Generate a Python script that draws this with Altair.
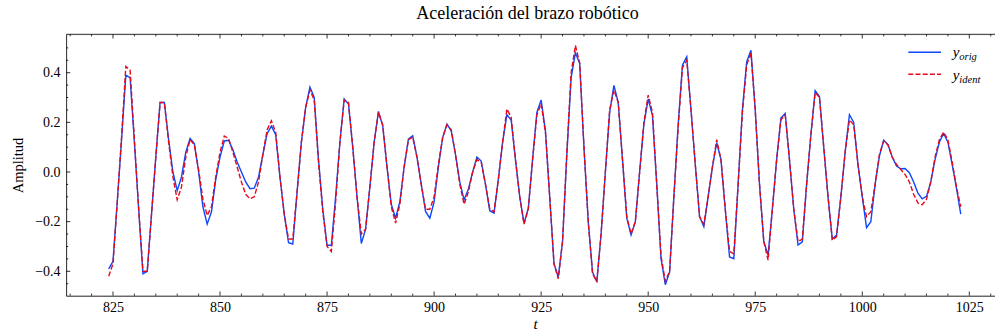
import altair as alt
import pandas as pd

# ---------------- data ----------------
t_values = list(range(824, 1024))

y_orig = [
    -0.39, -0.36, -0.12, 0.13, 0.39, 0.38, 0.12, -0.15, -0.41, -0.40,
    -0.17, 0.06, 0.28, 0.28, 0.13, 0.00, -0.075, -0.02, 0.08, 0.135,
    0.115, 0.00, -0.14, -0.21, -0.16, -0.03, 0.06, 0.125, 0.128, 0.09,
    0.04, 0.00, -0.04, -0.067, -0.065, -0.02, 0.07, 0.155, 0.185, 0.15,
    -0.02, -0.17, -0.285, -0.29, -0.08, 0.12, 0.26, 0.342, 0.30, 0.05,
    -0.15, -0.295, -0.295, -0.10, 0.12, 0.294, 0.274, 0.10, -0.10, -0.288,
    -0.23, -0.06, 0.12, 0.244, 0.186, 0.02, -0.13, -0.186, -0.12, 0.02,
    0.132, 0.146, 0.06, -0.05, -0.159, -0.186, -0.12, 0.02, 0.139, 0.193,
    0.166, 0.07, -0.04, -0.112, -0.07, 0.00, 0.06, 0.044, -0.05, -0.156,
    -0.166, -0.03, 0.12, 0.231, 0.209, 0.05, -0.10, -0.206, -0.146, 0.05,
    0.24, 0.29, 0.166, -0.10, -0.369, -0.423, -0.28, 0.07, 0.38, 0.48,
    0.437, 0.10, -0.20, -0.403, -0.443, -0.25, 0.00, 0.24, 0.349, 0.281,
    0.05, -0.186, -0.254, -0.20, 0.00, 0.193, 0.294, 0.227, -0.05, -0.349,
    -0.454, -0.403, -0.10, 0.19, 0.43, 0.464, 0.25, 0.03, -0.18, -0.22,
    -0.10, 0.02, 0.118, 0.05, -0.15, -0.342, -0.349, -0.05, 0.25, 0.443,
    0.49, 0.25, -0.05, -0.28, -0.335, -0.15, 0.05, 0.217, 0.236, 0.05,
    -0.15, -0.294, -0.281, -0.05, 0.15, 0.328, 0.304, 0.10, -0.10, -0.27,
    -0.254, -0.10, 0.08, 0.231, 0.20, 0.03, -0.10, -0.224, -0.20, -0.05,
    0.064, 0.128, 0.11, 0.06, 0.024, 0.013, 0.014, -0.003, -0.04, -0.085,
    -0.108, -0.098, -0.04, 0.05, 0.12, 0.155, 0.12, 0.03, -0.065, -0.17,
]

y_ident = [
    -0.42, -0.37, -0.12, 0.14, 0.425, 0.41, 0.13, -0.15, -0.40, -0.40,
    -0.17, 0.06, 0.28, 0.28, 0.12, -0.02, -0.112, -0.06, 0.06, 0.13,
    0.11, 0.01, -0.11, -0.175, -0.14, -0.02, 0.08, 0.145, 0.135, 0.08,
    0.02, -0.04, -0.09, -0.108, -0.10, -0.04, 0.07, 0.17, 0.206, 0.16,
    -0.02, -0.17, -0.27, -0.27, -0.08, 0.12, 0.26, 0.33, 0.29, 0.04,
    -0.16, -0.30, -0.32, -0.12, 0.12, 0.29, 0.28, 0.10, -0.10, -0.25,
    -0.23, -0.06, 0.12, 0.24, 0.19, 0.02, -0.14, -0.206, -0.13, 0.02,
    0.13, 0.14, 0.06, -0.05, -0.15, -0.15, -0.10, 0.03, 0.14, 0.19,
    0.17, 0.07, -0.05, -0.13, -0.08, 0.00, 0.05, 0.04, -0.05, -0.15,
    -0.16, -0.03, 0.12, 0.254, 0.22, 0.05, -0.10, -0.21, -0.15, 0.05,
    0.23, 0.275, 0.16, -0.10, -0.37, -0.43, -0.28, 0.08, 0.40, 0.51,
    0.44, 0.10, -0.20, -0.41, -0.44, -0.25, 0.00, 0.25, 0.33, 0.28,
    0.05, -0.18, -0.25, -0.20, 0.00, 0.20, 0.31, 0.24, -0.05, -0.34,
    -0.44, -0.40, -0.10, 0.18, 0.42, 0.45, 0.25, 0.03, -0.18, -0.21,
    -0.10, 0.02, 0.13, 0.05, -0.15, -0.32, -0.33, -0.05, 0.24, 0.43,
    0.48, 0.25, -0.05, -0.28, -0.355, -0.15, 0.05, 0.21, 0.23, 0.05,
    -0.15, -0.28, -0.27, -0.05, 0.15, 0.32, 0.30, 0.10, -0.10, -0.275,
    -0.26, -0.10, 0.08, 0.21, 0.19, 0.03, -0.10, -0.18, -0.16, -0.05,
    0.07, 0.125, 0.11, 0.06, 0.03, 0.01, -0.01, -0.04, -0.09, -0.125,
    -0.132, -0.11, -0.04, 0.06, 0.13, 0.16, 0.13, 0.04, -0.06, -0.14,
]

x_major_ticks = [825, 850, 875, 900, 925, 950, 975, 1000, 1025]
x_minor_ticks = list(range(815, 1031, 5))
y_major_ticks = [-0.4, -0.2, 0.0, 0.2, 0.4]
y_minor_ticks = [-0.45, -0.35, -0.3, -0.25, -0.15, -0.1, -0.05,
                 0.05, 0.1, 0.15, 0.25, 0.3, 0.35, 0.45, 0.5]

# ---------------- layout / style ----------------
FONT = "Liberation Serif"
BLUE = "#0d49fb"
RED = "#e6091c"
W, H = 928.9, 261.4
PAD_L, PAD_T = 66.1, 34.3

x_scale = alt.Scale(domain=[814.05, 1031.0], nice=False, zero=False)
y_scale = alt.Scale(domain=[-0.4983, 0.5547], nice=False, zero=False)

df_orig = pd.DataFrame({"t": t_values, "y": y_orig})
df_ident = pd.DataFrame({"t": t_values, "y": y_ident})

x_axis = alt.Axis(
    values=x_major_ticks, format="d", ticks=False, tickSize=0, grid=False,
    domain=True, domainColor="black", domainWidth=0.8,
    labelFont=FONT, labelFontSize=14, labelColor="black", labelPadding=5,
    title="t", titleFont=FONT, titleFontStyle="italic", titleFontWeight="normal",
    titleFontSize=15, titleColor="black", titleBaseline="alphabetic",
    titleX=469, titleY=33,
)
y_axis = alt.Axis(
    values=y_major_ticks, format=".1f", ticks=False, tickSize=0, grid=False,
    domain=True, domainColor="black", domainWidth=0.8,
    labelFont=FONT, labelFontSize=14, labelColor="black", labelPadding=6,
    title="Amplitud", titleFont=FONT, titleFontWeight="normal",
    titleFontSize=14.5, titleColor="black", titleAngle=-90,
    titleBaseline="alphabetic", titleAlign="center", titleX=-44, titleY=H / 2,
)

line_orig = alt.Chart(df_orig).mark_line(color=BLUE, strokeWidth=1.4).encode(
    x=alt.X("t:Q", scale=x_scale, axis=x_axis),
    y=alt.Y("y:Q", scale=y_scale, axis=y_axis),
)
line_ident = alt.Chart(df_ident).mark_line(
    color=RED, strokeWidth=1.4, strokeDash=[5, 2.2]
).encode(
    x=alt.X("t:Q", scale=x_scale),
    y=alt.Y("y:Q", scale=y_scale),
)

# inward ticks (bottom, top, left)
xmaj = pd.DataFrame({"v": x_major_ticks})
xmin = pd.DataFrame({"v": [v for v in x_minor_ticks if v not in x_major_ticks]})
ymaj = pd.DataFrame({"v": y_major_ticks})
ymin = pd.DataFrame({"v": y_minor_ticks})

tick_kw = dict(color="black", strokeWidth=0.8)
ticks = [
    alt.Chart(xmaj).mark_rule(**tick_kw).encode(
        x=alt.X("v:Q", scale=x_scale), y=alt.value(H), y2=alt.value(H - 4.2)),
    alt.Chart(xmin).mark_rule(**tick_kw).encode(
        x=alt.X("v:Q", scale=x_scale), y=alt.value(H), y2=alt.value(H - 2.1)),
    alt.Chart(xmaj).mark_rule(**tick_kw).encode(
        x=alt.X("v:Q", scale=x_scale), y=alt.value(0), y2=alt.value(4.2)),
    alt.Chart(xmin).mark_rule(**tick_kw).encode(
        x=alt.X("v:Q", scale=x_scale), y=alt.value(0), y2=alt.value(2.1)),
    alt.Chart(ymaj).mark_rule(**tick_kw).encode(
        y=alt.Y("v:Q", scale=y_scale), x=alt.value(0), x2=alt.value(4.2)),
    alt.Chart(ymin).mark_rule(**tick_kw).encode(
        y=alt.Y("v:Q", scale=y_scale), x=alt.value(0), x2=alt.value(2.1)),
]

one = pd.DataFrame({"k": [0]})
top_frame = alt.Chart(one).mark_rule(color="black", strokeWidth=0.8).encode(
    x=alt.value(0), x2=alt.value(W + 2), y=alt.value(0))

# legend
leg = [
    alt.Chart(one).mark_rule(color=BLUE, strokeWidth=1.4).encode(
        x=alt.value(842.2), x2=alt.value(874.9), y=alt.value(18)),
    alt.Chart(one).mark_rule(color=RED, strokeWidth=1.4, strokeDash=[5, 2.2]).encode(
        x=alt.value(842.2), x2=alt.value(874.9), y=alt.value(40)),
    alt.Chart(one).mark_text(font=FONT, fontSize=15, fontStyle="italic", align="left",
                             baseline="alphabetic", color="black").encode(
        x=alt.value(886.6), y=alt.value(22.5), text=alt.value("y")),
    alt.Chart(one).mark_text(font=FONT, fontSize=10.5, fontStyle="italic", align="left",
                             baseline="alphabetic", color="black").encode(
        x=alt.value(893.2), y=alt.value(25.5), text=alt.value("orig")),
    alt.Chart(one).mark_text(font=FONT, fontSize=15, fontStyle="italic", align="left",
                             baseline="alphabetic", color="black").encode(
        x=alt.value(886.6), y=alt.value(45.5), text=alt.value("y")),
    alt.Chart(one).mark_text(font=FONT, fontSize=10.5, fontStyle="italic", align="left",
                             baseline="alphabetic", color="black").encode(
        x=alt.value(893.2), y=alt.value(48.5), text=alt.value("ident")),
]

chart = alt.layer(line_orig, line_ident, *ticks, top_frame, *leg).properties(
    width=W,
    height=H,
    title=alt.TitleParams(
        "Aceleración del brazo robótico", font=FONT, fontSize=18,
        fontWeight="normal", color="black", anchor="middle", offset=11, dx=-3,
    ),
    autosize=alt.AutoSizeParams(type="none"),
    padding={"left": PAD_L, "top": PAD_T, "right": 0, "bottom": 332 - PAD_T - H},
).configure_view(stroke=None).configure(background="white")

chart.save("out.html", embed_options={"renderer": "svg", "actions": False})
